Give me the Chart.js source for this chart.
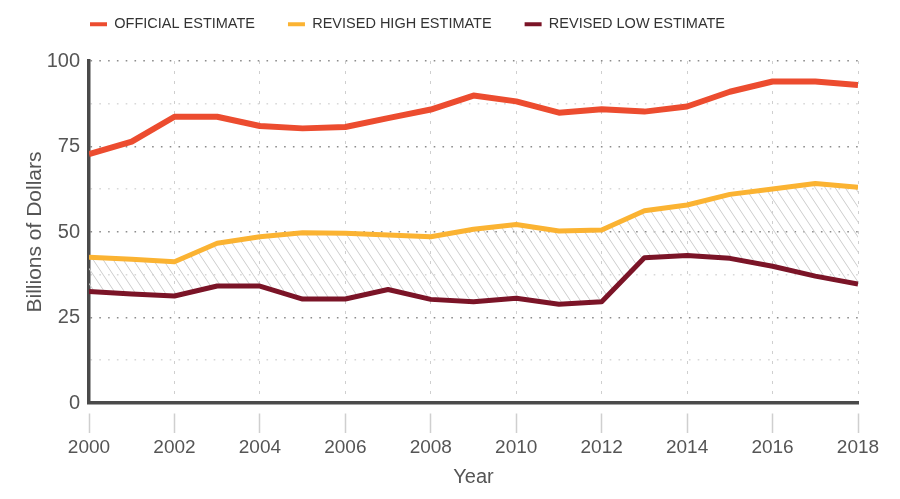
<!DOCTYPE html>
<html>
<head>
<meta charset="utf-8">
<script src="https://cdn.jsdelivr.net/npm/chart.js@4.4.1/dist/chart.umd.min.js"></script>
<style>
html,body{margin:0;padding:0;background:#fff;}
#wrap{width:900px;height:499px;position:relative;}
</style>
</head>
<body>
<div id="wrap"><canvas id="c"></canvas></div>
<script>
// ---- data ----
const years = [2000,2001,2002,2003,2004,2005,2006,2007,2008,2009,2010,2011,2012,2013,2014,2015,2016,2017,2018];
const officialEstimate = [72.8,76.4,83.7,83.7,81.0,80.3,80.7,83.3,85.8,89.9,88.2,84.9,85.9,85.2,86.7,91.0,94.0,94.0,93.0];
const revisedHighEstimate = [42.6,42.0,41.3,46.7,48.6,49.8,49.6,49.1,48.6,50.8,52.2,50.3,50.6,56.2,57.9,61.0,62.6,64.2,63.1];
const revisedLowEstimate = [32.6,31.9,31.3,34.2,34.2,30.4,30.4,33.2,30.3,29.6,30.6,28.9,29.6,42.5,43.1,42.3,40.0,37.1,34.8];
const yTickLabels = [0,25,50,75,100];
const xTickLabels = [2000,2002,2004,2006,2008,2010,2012,2014,2016,2018];
const seriesNames = ['OFFICIAL ESTIMATE','REVISED HIGH ESTIMATE','REVISED LOW ESTIMATE'];

const FONT = "'Liberation Sans', Arial, Helvetica, sans-serif";

function hatchPattern(){
  const w = 10, h = 15;
  const c = document.createElement('canvas');
  c.width = w; c.height = h;
  const g = c.getContext('2d');
  g.strokeStyle = '#cdcdcd';
  g.lineWidth = 1;
  g.beginPath();
  for(let k=-1;k<=1;k++){
    g.moveTo(k*w - w*0.2, -h*0.2);
    g.lineTo(k*w + w*1.2, h*1.2);
  }
  g.stroke();
  return g.createPattern(c,'repeat');
}

const toPoints = arr => years.map((x,i)=>({x:x, y:arr[i]}));

const legendPlace = {
  id:'legendPlace',
  afterLayout(chart){
    const lg = chart.legend;
    if(!lg) return;
    lg.left = 57;
    lg.top = -16;
  }
};

new Chart(document.getElementById('c'), {
  type:'line',
  data:{
    datasets:[
      {label:seriesNames[0], data:toPoints(officialEstimate), borderColor:'#ec4c2f', backgroundColor:'#ec4c2f', borderWidth:6, pointRadius:0, tension:0, fill:false, borderJoinStyle:'round'},
      {label:seriesNames[1], data:toPoints(revisedHighEstimate), borderColor:'#fbb332', backgroundColor:hatchPattern(), borderWidth:5, pointRadius:0, tension:0, fill:'+1', borderJoinStyle:'round'},
      {label:seriesNames[2], data:toPoints(revisedLowEstimate), borderColor:'#7b1427', backgroundColor:'#7b1427', borderWidth:5, pointRadius:0, tension:0, fill:false, borderJoinStyle:'round'}
    ]
  },
  options:{
    responsive:true,
    maintainAspectRatio:false,
    animation:false,
    layout:{padding:{left:0,right:42,top:3.5,bottom:0}},
    plugins:{
      filler:{drawTime:'beforeDatasetsDraw'},
      tooltip:{enabled:false},
      legend:{
        display:true,
        position:'top',
        align:'start',
        labels:{
          boxWidth:17,
          boxHeight:4,
          padding:33,
          color:'#333',
          font:{family:FONT,size:14.5},
          generateLabels(chart){
            return Chart.defaults.plugins.legend.labels.generateLabels(chart).map(l=>{
              const ds = chart.data.datasets[l.datasetIndex];
              return Object.assign({}, l, {fillStyle:ds.borderColor, strokeStyle:ds.borderColor, lineWidth:0});
            });
          }
        }
      }
    },
    scales:{
      x:{
        type:'linear',
        min:years[0],
        max:years[years.length-1],
        afterFit(s){ s.height = 96; },
        afterBuildTicks(s){ s.ticks = xTickLabels.map(v=>({value:v})); },
        ticks:{
          color:'#555',
          font:{family:FONT,size:19},
          padding:3,
          maxRotation:0,
          autoSkip:false,
          callback:v=>String(v)
        },
        grid:{
          color:'#cfcfcf',
          lineWidth:1,
          tickLength:30,
          tickColor:'#cfcfcf',
          tickWidth:1.5,
          tickBorderDash:[0,9,21,100]
        },
        border:{display:true,color:'#4a4a4a',width:3.5,dash:[3,7]},
        title:{display:true,text:'Year',color:'#555',font:{family:FONT,size:20},padding:{top:0,bottom:10}}
      },
      y:{
        min:0,
        max:100,
        afterFit(s){ s.width = 89; },
        afterBuildTicks(s){
          const t=[]; for(let i=0;i<yTickLabels.length;i++){ t.push({value:yTickLabels[i]}); if(i<yTickLabels.length-1) t.push({value:(yTickLabels[i]+yTickLabels[i+1])/2}); }
          s.ticks = t;
        },
        ticks:{
          color:'#555',
          font:{family:FONT,size:20},
          padding:9,
          callback:v=> yTickLabels.includes(v) ? String(v) : ''
        },
        grid:{
          drawTicks:false,
          lineWidth:1.6,
          color:ctx=> (ctx.tick && yTickLabels.includes(ctx.tick.value)) ? '#8c8c8c' : '#d8d8d8'
        },
        border:{display:true,color:'#4a4a4a',width:3.5,dash:[1.6,7.2]},
        title:{display:true,text:'Billions of Dollars',color:'#555',font:{family:FONT,size:21},padding:{top:23,bottom:0}}
      }
    }
  },
  plugins:[legendPlace]
});
</script>
</body>
</html>
